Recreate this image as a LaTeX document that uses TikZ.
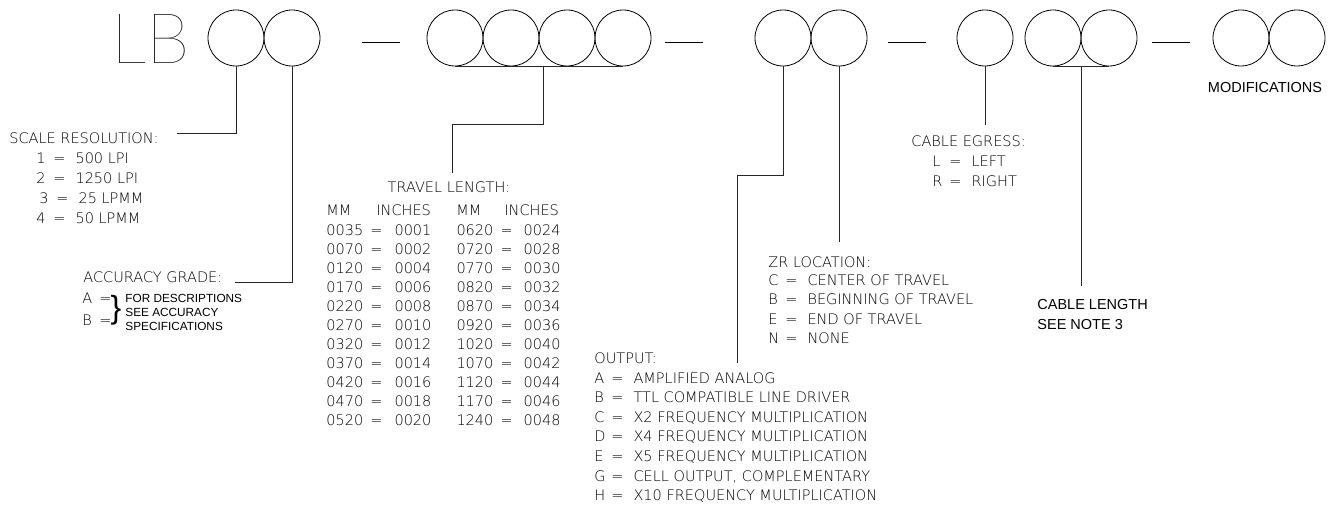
\documentclass[tikz,border=0pt]{standalone}
\usepackage{fontspec}
\setmainfont{Liberation Sans}
\usepackage{tikz}
\usetikzlibrary{positioning, calc}
\IfFontExistsTF{DejaVu Sans ExtraLight}
  {\newfontfamily\cadfamily{DejaVu Sans ExtraLight}}
  {\newfontfamily\cadfamily{DejaVu Sans}}
\IfFontExistsTF{Lato Hairline}
  {\newfontfamily\hairfamily{Lato Hairline}}
  {\let\hairfamily\cadfamily}
\newcommand\cadfont{\cadfamily\fontsize{14.5}{19.5}\selectfont}
\newcommand\opt[2]{\makebox[17pt][l]{#1}=\hspace{10pt}#2}

\begin{document}
\begin{tikzpicture}[x=1pt, y=-1pt, line width=0.8pt,
    digit/.style={draw, circle, minimum size=56pt, inner sep=0pt},
    lead/.style={draw, black!85},
    cad/.style={font=\cadfont, anchor=base west, inner sep=0pt},
    print/.style={font=\fontsize{14.5}{20}\selectfont, anchor=base west, inner sep=0pt}]
  \useasboundingbox (0,0) rectangle (1338,505);
  % part number
  \node[anchor=base west, inner sep=0pt, font=\hairfamily\fontsize{70}{70}\selectfont] (lb) at (111,64) {LB};
  \node[digit] (res) at (236,38) {};
  \node[digit] (acc) at (292,38) {};
  \foreach \x [count=\i] in {455,511,567,623}
    \node[digit] (t\i) at (\x,38) {};
  \node[digit] (out) at (783,38) {};
  \node[digit] (zr)  at (839,38) {};
  \node[digit] (egr) at (985,38) {};
  \node[digit] (c1)  at (1053,38) {};
  \node[digit] (c2)  at (1109,38) {};
  \node[digit] (m1)  at (1241,38) {};
  \node[digit] (m2)  at (1297,38) {};
  \foreach \x in {362,665,888,1152}
    \draw (\x,42) -- ++(38,0);
  \node[print, anchor=center] (mods) at (1265,88) {MODIFICATIONS};

  % scale resolution
  \node[cad] (scale) at (9,144) {SCALE RESOLUTION:};
  \foreach \k/\v/\x [count=\i from 0] in {1/500 LPI/36, 2/1250 LPI/36, 3/25 LPMM/39, 4/50 LPMM/36}
    \node[cad] (scale\k) at (\x,164+19.7*\i) {\opt{\k}{\v}};

  % accuracy grade
  \node[cad] (grade) at (83,282) {ACCURACY GRADE:};
  \node[cad] (gradeA) at (82,303) {\makebox[17pt][l]{A}=};
  \node[cad] (gradeB) at (82,325) {\makebox[17pt][l]{B}=};
  \node[inner sep=0pt, font=\fontsize{32}{32}\selectfont] (brace) at (116,310) {\}};
  \foreach \t [count=\i from 0] in {FOR DESCRIPTIONS, SEE ACCURACY, SPECIFICATIONS}
    \node[anchor=base west, inner sep=0pt, font=\fontsize{11.8}{14}\selectfont] (gnote\i) at (125,302+14.3*\i) {\t};

  % travel length
  \node[cad, anchor=base] (travel) at (449,193) {TRAVEL LENGTH:};
  \node[cad] (travhead) at (326,215) {\makebox[50pt][l]{MM}\makebox[80pt][l]{INCHES}\makebox[48pt][l]{MM}INCHES};
  \foreach \a/\b/\c/\d [count=\i from 0] in {0035/0001/0620/0024, 0070/0002/0720/0028,
      0120/0004/0770/0030, 0170/0006/0820/0032, 0220/0008/0870/0034, 0270/0010/0920/0036,
      0320/0012/1020/0040, 0370/0014/1070/0042, 0420/0016/1120/0044, 0470/0018/1170/0046,
      0520/0020/1240/0048}
    \node[cad] (trav\i) at (326,235+19*\i) {\makebox[44pt][l]{\a}=\hspace{12pt}\makebox[62pt][l]{\b}\makebox[44pt][l]{\c}=\hspace{11pt}\d};

  % zr location
  \node[cad] (zrtitle) at (768,267) {ZR LOCATION:};
  \foreach \k/\v [count=\i from 0] in {C/CENTER OF TRAVEL, B/BEGINNING OF TRAVEL, E/END OF TRAVEL, N/NONE}
    \node[cad] (zr\k) at (768,285+19.6*\i) {\opt{\k}{\v}};

  % output
  \node[cad] (outtitle) at (594,363) {OUTPUT:};
  \foreach \k/\v [count=\i from 0] in {A/AMPLIFIED ANALOG, B/TTL COMPATIBLE LINE DRIVER,
      C/X2 FREQUENCY MULTIPLICATION, D/X4 FREQUENCY MULTIPLICATION, E/X5 FREQUENCY MULTIPLICATION,
      G/{CELL OUTPUT, COMPLEMENTARY}, H/X10 FREQUENCY MULTIPLICATION}
    \node[cad] (out\k) at (594,383+19.6*\i) {\opt{\k}{\v}};

  % cable egress and length
  \node[cad] (egrtitle) at (911,147) {CABLE EGRESS:};
  \node[cad] (egrL) at (932,167) {\opt{L}{LEFT}};
  \node[cad] (egrR) at (932,187) {\opt{R}{RIGHT}};
  \node[print] (cablen) at (1037,309) {CABLE LENGTH};
  \node[print] (cabnote) at (1037,329) {SEE NOTE 3};

  % leaders
  \coordinate (resend) at (177,133);
  \coordinate (accend) at (235,282);
  \coordinate (travtop) at (543,66);
  \coordinate (travend) at (452,173);
  \coordinate (outend) at (737,363);
  \coordinate (zrend) at (839,242);
  \coordinate (egrend) at (985,125);
  \coordinate (cabtop) at ($(c1.south)!0.5!(c2.south)$);
  \coordinate (cabend) at (1081,286);
  \draw[lead] (res.south) |- (resend);
  \draw[lead] (acc.south) |- (accend);
  \draw[lead] (t1.south) -- (t4.south);
  \draw[lead] (travtop) -- ++(0,58) -| (travend);
  \draw[lead] (out.south) -- ++(0,109) -| (outend);
  \draw[lead] (zr.south) -- (zrend);
  \draw[lead] (egr.south) -- (egrend);
  \draw[lead] (c1.south) -- (c2.south);
  \draw[lead] (cabtop) -- (cabend);
\end{tikzpicture}
\end{document}
